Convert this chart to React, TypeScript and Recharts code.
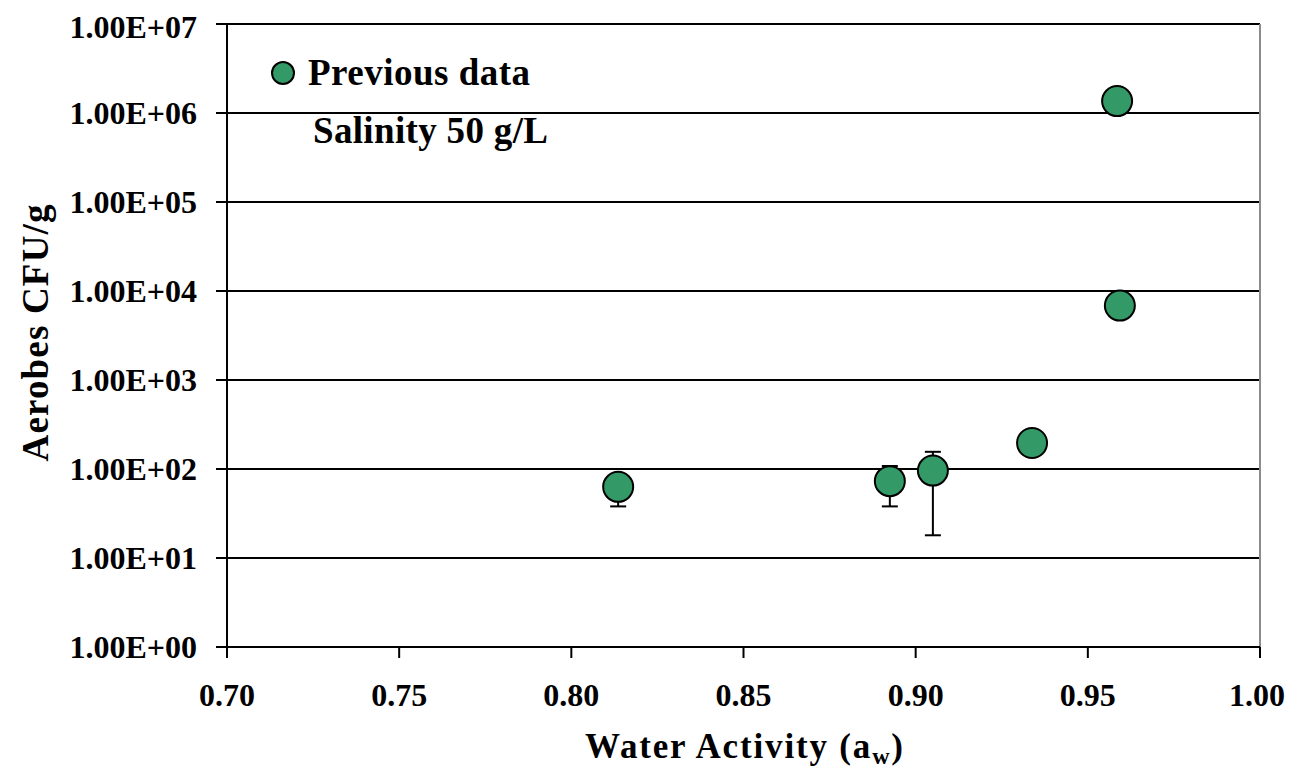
import React from 'react';
import { ScatterChart, Scatter, XAxis, YAxis, CartesianGrid, ErrorBar, ReferenceLine } from 'recharts';

const waterActivity = [0.8136, 0.8925, 0.905, 0.9338, 0.9593, 0.9585];
const aerobes = [63, 73, 96, 196, 6850, 1360000];
const errLow = [25, 35, 78, null, null, null];
const errHigh = [25, 35, 60, null, null, null];

const xTicks = [0.7, 0.75, 0.8, 0.85, 0.9, 0.95, 1.0];
const xTickLabels = ['0.70', '0.75', '0.80', '0.85', '0.90', '0.95', '1.00'];
const yTicks = [1, 10, 100, 1000, 10000, 100000, 1000000, 10000000];
const yTickLabels = ['1.00E+00', '1.00E+01', '1.00E+02', '1.00E+03', '1.00E+04', '1.00E+05', '1.00E+06', '1.00E+07'];

const seriesName = 'Previous data';
const noteText = 'Salinity 50 g/L';
const xTitle = 'Water Activity (a';
const xTitleSub = 'w';
const yTitle = 'Aerobes CFU/g';

const data = waterActivity.map((x, i) => ({
  x,
  y: aerobes[i],
  err: errLow[i] == null ? undefined : [errLow[i], errHigh[i]],
}));

const FONT = '"Liberation Serif", "Times New Roman", serif';
const GREEN = '#339966';
const W = 1277;
const H = 760;

const Dot = (props: any) => {
  const { cx, cy } = props;
  if (cx == null || cy == null) return null;
  return <circle cx={cx} cy={cy} r={15} fill={GREEN} stroke="#000" strokeWidth={2} />;
};

const xFmt = (v: number) => {
  const i = xTicks.findIndex((t) => Math.abs(t - v) < 1e-9);
  return i >= 0 ? xTickLabels[i] : String(v);
};
const yFmt = (v: number) => {
  const i = yTicks.findIndex((t) => Math.abs(t - v) / t < 1e-9);
  return i >= 0 ? yTickLabels[i] : String(v);
};

export default function App() {
  const tickStyle = { fontFamily: FONT, fontWeight: 'bold' as const, fontSize: 32, fill: '#000' };
  return (
    <div style={{ position: 'relative', width: W, height: H }}>
      <style>{'.recharts-surface{overflow:visible}'}</style>
      <ScatterChart width={W} height={H} margin={{ top: 16, right: 25, left: 0, bottom: 0 }}>
        <CartesianGrid horizontal vertical={false} stroke="#000" strokeWidth={2} />
        <XAxis
          type="number"
          dataKey="x"
          domain={[0.7, 1.0]}
          ticks={xTicks}
          tickFormatter={xFmt}
          height={H - 639}
          tickSize={11}
          tickMargin={25}
          stroke="#000"
          strokeWidth={2}
          tick={tickStyle}
          allowDataOverflow
        />
        <YAxis
          type="number"
          dataKey="y"
          scale="log"
          domain={[1, 10000000]}
          ticks={yTicks}
          tickFormatter={yFmt}
          width={219}
          tickSize={11}
          tickMargin={19}
          stroke="#000"
          strokeWidth={2}
          tick={tickStyle}
          allowDataOverflow
        />
        <ReferenceLine x={1.0} stroke="#8c8c8c" strokeWidth={2} />
        <Scatter data={data} shape={Dot} isAnimationActive={false}>
          <ErrorBar dataKey="err" direction="y" width={8} stroke="#000" strokeWidth={2} />
        </Scatter>
      </ScatterChart>
      <svg
        width={W}
        height={H}
        style={{ position: 'absolute', left: 0, top: 0, pointerEvents: 'none' }}
      >
        <g fontFamily={FONT} fontWeight="bold" fill="#000">
          <circle cx={275} cy={65} r={11} fill={GREEN} stroke="#000" strokeWidth={2} />
          <text x={300} y={77} fontSize={37} textLength={222} lengthAdjust="spacing">{seriesName}</text>
          <text x={305} y={135} fontSize={37} textLength={235} lengthAdjust="spacing">{noteText}</text>
          <text x={577} y={750} fontSize={35} textLength={318} lengthAdjust="spacing">
            {xTitle}
            <tspan fontSize={24} dy={6}>{xTitleSub}</tspan>
            <tspan dy={-6}>)</tspan>
          </text>
          <text
            x={0}
            y={0}
            fontSize={37}
            textAnchor="middle"
            transform="translate(40 325) rotate(-90)"
            textLength={257}
            lengthAdjust="spacing"
          >
            {yTitle}
          </text>
        </g>
      </svg>
    </div>
  );
}
